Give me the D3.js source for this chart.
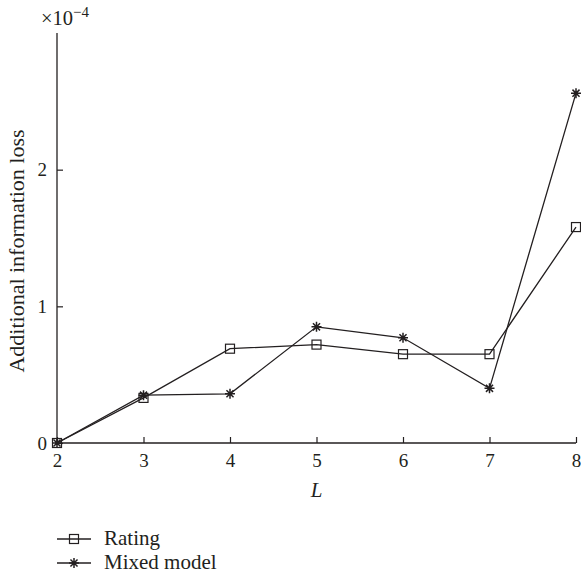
<!DOCTYPE html>
<html>
<head>
<meta charset="utf-8">
<script src="https://cdn.jsdelivr.net/npm/d3@7"></script>
<style>
  body { margin: 0; background: #fff; }
  text { font-family: 'Liberation Serif', 'DejaVu Serif', serif; fill: #231f20; }
</style>
</head>
<body>
<script>
const levels = [2, 3, 4, 5, 6, 7, 8];
const rating = [0, 0.33, 0.69, 0.72, 0.65, 0.65, 1.58];
const mixedModel = [0, 0.35, 0.36, 0.85, 0.77, 0.40, 2.56];
const yTicks = [0, 1, 2];
const seriesNames = ['Rating', 'Mixed model'];

const width = 581, height = 578;
const plotLeft = 57, plotRight = 576, plotTop = 33, plotBottom = 443;

const svg = d3.select('body')
    .append('svg')
    .attr('width', width)
    .attr('height', height);

const xScale = d3.scaleLinear()
    .domain([2, 8])
    .range([plotLeft, plotRight]);

const yScale = d3.scaleLinear()
    .domain([0, 3])
    .range([plotBottom, plotTop]);

const ink = '#231f20';

// x axis, ticks pointing in
const xAxis = d3.axisBottom(xScale)
    .tickValues(levels)
    .tickSize(-6)
    .tickPadding(11)
    .tickFormat(d3.format('d'));

const gx = svg.append('g')
    .attr('transform', 'translate(0,' + plotBottom + ')')
    .call(xAxis);
gx.select('.domain').attr('d', 'M' + plotLeft + ',0H' + plotRight).attr('stroke', ink).attr('stroke-width', 1.3);
gx.selectAll('.tick line').attr('stroke', ink).attr('stroke-width', 1.2);
gx.selectAll('.tick text').attr('font-size', 19).attr('fill', ink).attr('font-family', "'Liberation Serif', serif");

// y axis
const yAxis = d3.axisLeft(yScale)
    .tickValues(yTicks)
    .tickSize(-6)
    .tickPadding(10)
    .tickFormat(d3.format('d'));

const gy = svg.append('g')
    .attr('transform', 'translate(' + plotLeft + ',0)')
    .call(yAxis);
gy.select('.domain').attr('d', 'M0,' + plotBottom + 'V' + plotTop).attr('stroke', ink).attr('stroke-width', 1.3);
gy.selectAll('.tick line').attr('stroke', ink).attr('stroke-width', 1.2);
gy.selectAll('.tick text').attr('font-size', 19).attr('fill', ink).attr('font-family', "'Liberation Serif', serif");

// exponent label
const expo = svg.append('text')
    .attr('x', 41)
    .attr('y', 25)
    .attr('font-size', 20.5);
expo.append('tspan').text('×10');
expo.append('tspan').attr('dy', -8).attr('font-size', 15).text('−4');

// axis titles
svg.append('text')
    .attr('transform', 'translate(24,251) rotate(-90)')
    .attr('text-anchor', 'middle')
    .attr('font-size', 22)
    .text('Additional information loss');

svg.append('text')
    .attr('x', (plotLeft + plotRight) / 2)
    .attr('y', 497)
    .attr('text-anchor', 'middle')
    .attr('font-size', 21)
    .attr('font-style', 'italic')
    .text('L');

const line = d3.line()
    .x((d, i) => xScale(levels[i]))
    .y(d => yScale(d));

const starPath = (cx, cy, r) => {
    let p = '';
    for (let k = 0; k < 4; k++) {
        const a = k * Math.PI / 4;
        p += 'M' + (cx - r * Math.cos(a)) + ',' + (cy - r * Math.sin(a)) + 'L' + (cx + r * Math.cos(a)) + ',' + (cy + r * Math.sin(a));
    }
    return p;
};

function drawSquare(g, cx, cy) {
    g.append('rect')
        .attr('x', cx - 4.5)
        .attr('y', cy - 4.5)
        .attr('width', 9)
        .attr('height', 9)
        .attr('fill', 'none')
        .attr('stroke', ink)
        .attr('stroke-width', 1.2);
}

function drawStar(g, cx, cy) {
    g.append('path')
        .attr('d', starPath(cx, cy, 5))
        .attr('stroke', ink)
        .attr('stroke-width', 1.5);
}

const series = [rating, mixedModel];
const markers = [drawSquare, drawStar];

series.forEach((vals, s) => {
    svg.append('path')
        .datum(vals)
        .attr('d', line)
        .attr('fill', 'none')
        .attr('stroke', ink)
        .attr('stroke-width', 1.3);
    const g = svg.append('g');
    vals.forEach((v, i) => markers[s](g, xScale(levels[i]), yScale(v)));
});

// legend
const legendY = [539, 563];
seriesNames.forEach((name, s) => {
    const g = svg.append('g');
    g.append('line')
        .attr('x1', 57).attr('x2', 91)
        .attr('y1', legendY[s]).attr('y2', legendY[s])
        .attr('stroke', ink)
        .attr('stroke-width', 1.3);
    markers[s](g, 74, legendY[s]);
    g.append('text')
        .attr('x', 104)
        .attr('y', legendY[s] + 6)
        .attr('font-size', 21)
        .text(name);
});
</script>
</body>
</html>
